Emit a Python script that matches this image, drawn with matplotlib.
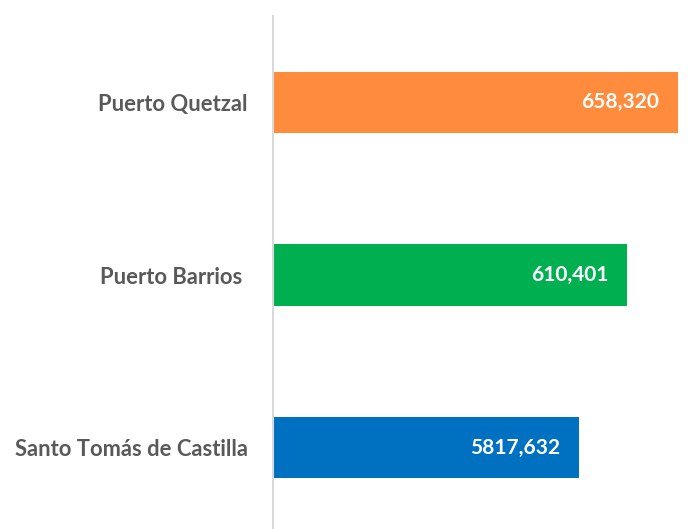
import matplotlib
matplotlib.use("Agg")
import matplotlib.pyplot as plt

# data (bottom to top)
ports = ["Santo Tomás de Castilla", "Puerto Barrios ", "Puerto Quetzal"]
values = [497400, 575400, 658320]          # bar lengths as drawn
value_labels = ["5817,632", "610,401", "658,320"]
colors = ["#0070C0", "#00B050", "#FF8B3D"]

fig = plt.figure(figsize=(6.88, 5.29), dpi=100)
ax = fig.add_axes([273 / 688, 0, 1 - 273 / 688 - 0.004, 513 / 529])

ypos = range(len(ports))
ax.barh(ypos, values, height=0.354, color=colors)
ax.set_xlim(0, 670000)
ax.set_ylim(-0.472, 2.501)

# value labels, right aligned inside the bar end
for y, v, lab in zip(ypos, values, value_labels):
    ax.annotate(lab, (v, y), xytext=(-13.5, 0), textcoords="offset points",
                ha="right", va="center", color="white",
                fontsize=15, fontweight="bold", family="Lato")

ax.set_yticks(list(ypos))
ax.set_yticklabels(ports, fontsize=15.8, fontweight="bold", family="Lato", color="#595959")
ax.tick_params(axis="y", length=0, pad=18)
ax.set_xticks([])

for s in ["top", "right", "bottom"]:
    ax.spines[s].set_visible(False)
ax.spines["left"].set_color("#D9D9D9")
ax.spines["left"].set_linewidth(1.5)

fig.savefig("out.png", dpi=100)
